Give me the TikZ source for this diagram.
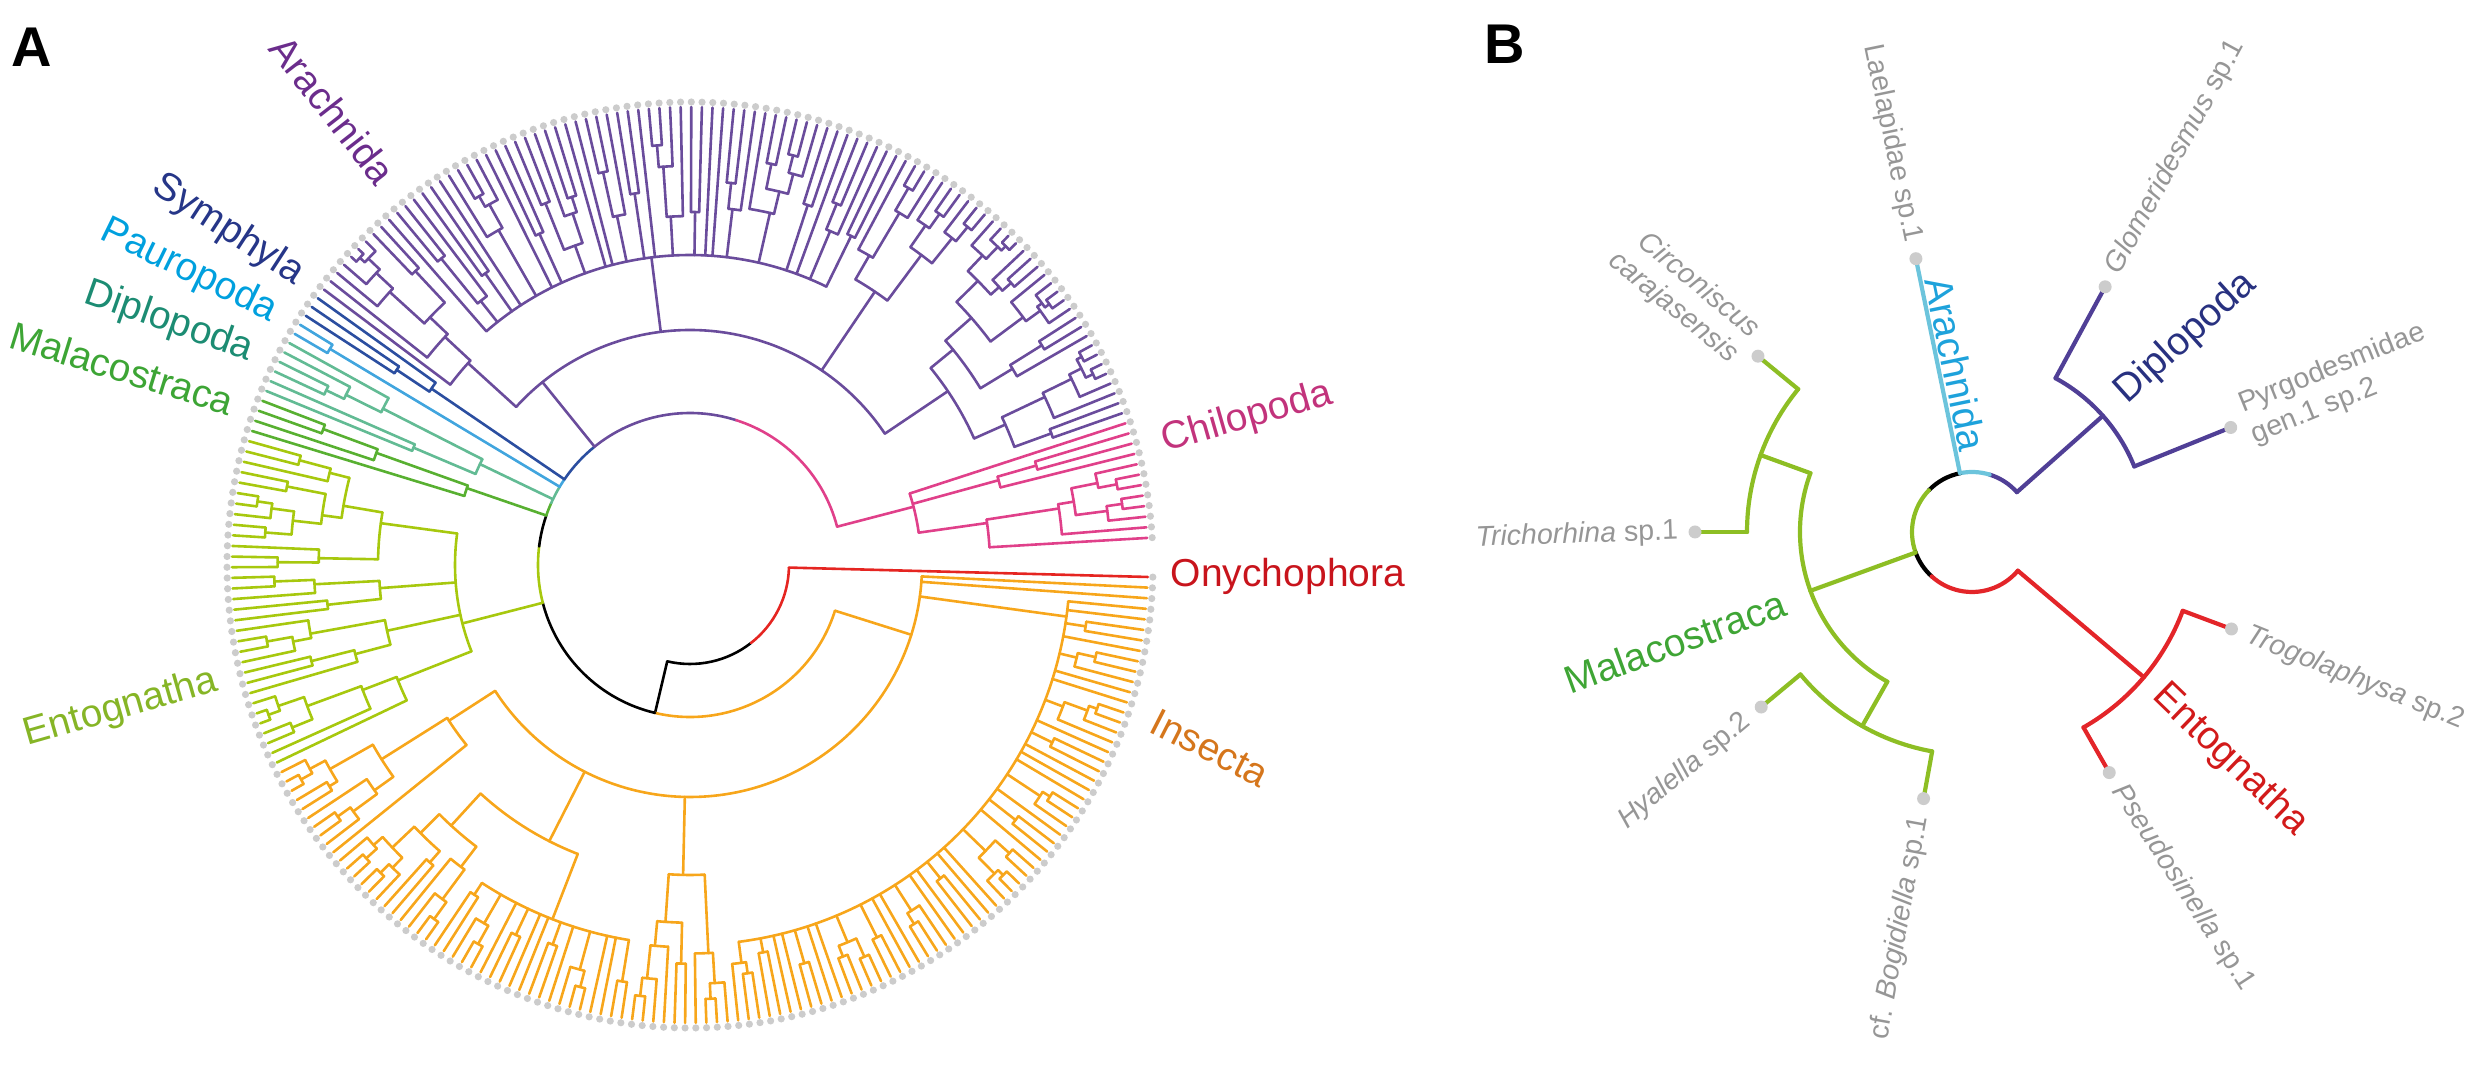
\documentclass[tikz,border=0pt]{standalone}
\usepackage{fontspec}
\setmainfont{Liberation Sans}
\definecolor{insC}{RGB}{247,166,27}
\definecolor{entC}{RGB}{167,200,14}
\definecolor{malC}{RGB}{88,176,49}
\definecolor{dipC}{RGB}{98,187,148}
\definecolor{pauC}{RGB}{65,165,222}
\definecolor{symC}{RGB}{43,78,160}
\definecolor{araC}{RGB}{106,76,156}
\definecolor{chiC}{RGB}{224,64,138}
\definecolor{onyC}{RGB}{229,37,33}
\definecolor{dotC}{RGB}{204,204,204}
\definecolor{araL}{RGB}{107,45,140}
\definecolor{symL}{RGB}{38,54,136}
\definecolor{pauL}{RGB}{0,160,222}
\definecolor{dipL}{RGB}{28,140,115}
\definecolor{malL}{RGB}{61,165,53}
\definecolor{entL}{RGB}{134,181,38}
\definecolor{insL}{RGB}{213,118,28}
\definecolor{onyL}{RGB}{200,20,28}
\definecolor{chiL}{RGB}{194,51,124}
\definecolor{bAra}{RGB}{108,196,220}
\definecolor{bAraL}{RGB}{30,162,219}
\definecolor{bDip}{RGB}{80,63,150}
\definecolor{bDipL}{RGB}{40,49,128}
\definecolor{bMal}{RGB}{141,190,36}
\definecolor{bMalL}{RGB}{63,165,53}
\definecolor{bEnt}{RGB}{227,37,41}
\definecolor{bEntL}{RGB}{210,26,26}
\definecolor{tipG}{RGB}{150,150,150}
\newcommand\Rtip{458}
% random subtree over tip range #1..#2, parent radius #3, node radius #4 (0 = random)
\newcommand\gtnode[4]{%
  \ifnum#1=#2\relax
    \pgfmathsetmacro\gtA{358.5-1.33*#1}%
    \draw (\gtA:#3) -- (\gtA:\Rtip);%
  \else
    \gtinner{#1}{#2}{#3}{#4}%
  \fi}
\newcommand\gtinner[4]{%
  \ifdim #4pt>0pt \edef\gtR{#4}\else\pgfmathsetmacro\gtR{#3+(\Rtip-#3)*(0.18+0.37*rnd)}\fi
  \pgfmathtruncatemacro\gtBm{#2-1}%
  \pgfmathrandominteger{\gtS}{#1}{\gtBm}%
  \pgfmathtruncatemacro\gtS{\gtS}%
  \pgfmathtruncatemacro\gtSp{\gtS+1}%
  \pgfmathsetmacro\gtM{358.5-1.33*(#1+#2)/2}%
  \pgfmathsetmacro\gtL{358.5-1.33*(#1+\gtS)/2}%
  \pgfmathsetmacro\gtRr{358.5-1.33*(\gtSp+#2)/2}%
  \draw (\gtM:#3) -- (\gtM:\gtR);%
  \draw (\gtL:\gtR) arc[start angle=\gtL, end angle=\gtRr, radius=\gtR];%
  \edef\gtNext{\noexpand\gtnode{#1}{\gtS}{\gtR}{0}\noexpand\gtnode{\gtSp}{#2}{\gtR}{0}}%
  \gtNext}
% hub: first tip #1, groups size/radius #2, hub radius #3, parent radius #4, stem angle #5
\newcommand\treehub[5]{%
  \xdef\hubCur{#1}\gdef\hubFirst{}\gdef\hubLast{}%
  \foreach \hs/\hr in {#2}{%
    \pgfmathtruncatemacro\hbA{\hubCur}%
    \pgfmathtruncatemacro\hbB{\hubCur+\hs-1}%
    \pgfmathsetmacro\hbM{358.5-1.33*(\hbA+\hbB)/2}%
    \ifx\hubFirst\empty\xdef\hubFirst{\hbM}\fi
    \xdef\hubLast{\hbM}%
    \ifdim\hr pt<0pt\relax\else
      \ifnum\hs=1\relax
        \draw (\hbM:#3) -- (\hbM:\Rtip);%
      \else
        \gtnode{\hbA}{\hbB}{#3}{\hr}%
      \fi
    \fi
    \xdef\hubCur{\the\numexpr\hbB+1\relax}%
  }%
  \pgfmathsetmacro\hubS{max(\hubFirst,#5)}%
  \pgfmathsetmacro\hubE{min(\hubLast,#5)}%
  \draw (#5:#4) -- (#5:#3);%
  \draw (\hubS:#3) arc[start angle=\hubS, end angle=\hubE, radius=#3];%
}
\tikzset{
  clab/.style={font=\fontsize{39}{44}\selectfont, inner sep=0pt},
  tlab/.style={font=\fontsize{28.5}{33}\selectfont, text=tipG, inner sep=0pt},
  plab/.style={font=\fontsize{56}{60}\selectfont\bfseries, inner sep=0pt},
  tipdot/.style={fill=dotC, draw=none}
}
\begin{document}
\begin{tikzpicture}[x=1pt,y=1pt,line cap=round,line join=round]
\useasboundingbox (0,0) rectangle (2479,1067);
\pgfmathsetseed{11}
% ================= Panel A =================
\begin{scope}[shift={(690,502)}, line width=2.6pt]
  % root
  \draw[black] (256.7:99) arc[start angle=256.7,end angle=308,radius=99];
  \draw[onyC] (308:99) arc[start angle=308,end angle=358.5,radius=99];
  \draw[onyC] (358.5:99) -- (358.5:\Rtip);
  \draw[black] (256.7:99) -- (256.7:152);
  % inner ring
  \draw[insC] (256.7:152) arc[start angle=256.7,end angle=342.5,radius=152];
  \draw[black] (194.4:152) arc[start angle=194.4,end angle=256.7,radius=152];
  \draw[entC] (173:152) arc[start angle=173,end angle=194.4,radius=152];
  \draw[black] (161:152) arc[start angle=161,end angle=173,radius=152];
  \draw[malC] (156:152) arc[start angle=156,end angle=161,radius=152];
  \draw[dipC] (149.05:152) arc[start angle=149.05,end angle=156,radius=152];
  \draw[pauC] (145.7:152) arc[start angle=145.7,end angle=149.05,radius=152];
  \draw[symC] (128.9:152) arc[start angle=128.9,end angle=145.7,radius=152];
  \draw[araC] (72.3:152) arc[start angle=72.3,end angle=128.9,radius=152];
  \draw[chiC] (14.6:152) arc[start angle=14.6,end angle=72.3,radius=152];
  % Insecta
  \begin{scope}[insC]
    \treehub{1}{1/0,1/0,60/-1,10/310,32/-1,10/287}{232}{152}{342.5}
    \treehub{3}{1/0,1/0,2/0,1/0,3/0,1/0,1/0,4/0,1/0,2/0,1/0,1/0,1/0,3/0,1/0,2/0,1/0,5/0,1/0,1/0,2/0,1/0,1/0,3/0,1/0,1/0,2/0,4/0,1/0,1/0,2/0,1/0,1/0,2/0,3/0}{380}{232}{352.2}
    \treehub{73}{20/-1,12/0}{310}{232}{243}
    \treehub{73}{2/0,1/0,1/0,3/0,1/0,2/0,1/0,1/0,2/0,1/0,3/0,2/0}{380}{310}{248.775}
  \end{scope}
  % Entognatha
  \begin{scope}[entC]
    \treehub{115}{7/314,7/310,5/311,13/312}{235}{152}{194.4}
  \end{scope}
  \begin{scope}[malC]\gtnode{147}{150}{152}{236}\end{scope}
  \begin{scope}[dipC]\gtnode{151}{156}{152}{233}\end{scope}
  \begin{scope}[pauC]\gtnode{157}{158}{152}{420}\end{scope}
  \begin{scope}[symC]\gtnode{159}{161}{152}{313}\end{scope}
  % Arachnida
  \begin{scope}[araC]
    \treehub{162}{9/300,52/-1,10/330,23/311}{235}{152}{128.9}
    \treehub{171}{1/0,3/0,2/0,1/0,4/0,1/0,2/0,5/0,1/0,1/0,3/0,2/0,1/0,4/0,2/0,1/0,1/0,3/0,6/0,2/0,1/0,3/0,2/0}{310}{235}{97.15}
  \end{scope}
  % Chilopoda
  \begin{scope}[chiC]
    \treehub{256}{1/0,3/320,8/300}{231}{152}{14.6}
  \end{scope}
  % tip dots
  \foreach \i in {0,...,267}{\pgfmathsetmacro\da{358.5-1.33*\i}\fill[tipdot] (\da:463) circle[radius=3.6];}
\end{scope}
% labels panel A
\node[plab] (pA) at (32,1020) {A};
\node[clab, text=araL, rotate=-52] (lAra) at (333,957) {Arachnida};
\node[clab, text=symL, rotate=-33] (lSym) at (228,837) {Symphyla};
\node[clab, text=pauL, rotate=-26] (lPau) at (189,796) {Pauropoda};
\node[clab, text=dipL, rotate=-19.4] (lDip) at (169,745) {Diplopoda};
\node[clab, text=malL, rotate=-17.2] (lMal) at (122,699) {Malacostraca};
\node[clab, text=entL, rotate=16] (lEnt) at (121,359) {Entognatha};
\node[clab, text=insL, rotate=-27] (lIns) at (1210,319) {Insecta};
\node[clab, text=onyL] (lOny) at (1288,491) {Onychophora};
\node[clab, text=chiL, rotate=16] (lChi) at (1247,649) {Chilopoda};
% ================= Panel B =================
\node[plab] (pB) at (1505,1023) {B};
\begin{scope}[shift={(1972,535)}, line width=4.2pt]
  % ring
  \draw[bDip] (41.6:60) arc[start angle=41.6,end angle=73,radius=60];
  \draw[bAra] (73:60) arc[start angle=73,end angle=101.6,radius=60];
  \draw[black] (101.6:60) arc[start angle=101.6,end angle=136,radius=60];
  \draw[bMal] (136:60) arc[start angle=136,end angle=200,radius=60];
  \draw[black] (200:60) arc[start angle=200,end angle=227.8,radius=60];
  \draw[bEnt] (227.8:60) arc[start angle=227.8,end angle=319.8,radius=60];
  % Arachnida
  \draw[bAra] (101.6:60) -- (101.6:276);
  % Diplopoda
  \draw[bDip] (41.6:60) -- (41.6:175);
  \draw[bDip] (22:175) arc[start angle=22,end angle=61.5,radius=175];
  \draw[bDip] (61.5:175) -- (61.5:276);
  \draw[bDip] (22:175) -- (22:276);
  % Entognatha
  \draw[bEnt] (-40.2:60) -- (-40.2:225);
  \draw[bEnt] (-60.3:225) arc[start angle=-60.3,end angle=-20.5,radius=225];
  \draw[bEnt] (-20.5:225) -- (-20.5:274);
  \draw[bEnt] (-60.3:225) -- (-60.3:274);
  % Malacostraca
  \draw[bMal] (200:60) -- (200:172);
  \draw[bMal] (160:172) arc[start angle=160,end angle=240.5,radius=172];
  \draw[bMal] (160:172) -- (160:225);
  \draw[bMal] (140.6:225) arc[start angle=140.6,end angle=180,radius=225];
  \draw[bMal] (140.6:225) -- (140.6:274);
  \draw[bMal] (180:225) -- (180:274);
  \draw[bMal] (240.5:172) -- (240.5:223);
  \draw[bMal] (219.7:223) arc[start angle=219.7,end angle=259.7,radius=223];
  \draw[bMal] (219.7:223) -- (219.7:270);
  \draw[bMal] (259.7:223) -- (259.7:268);
  % tip dots
  \foreach \a/\r in {101.6/279,61.5/279,22/279,-20.5/277,-60.3/277,140.6/277,180/277,219.7/274,259.7/271}
    \fill[tipdot] (\a:\r) circle[radius=6.5];
  % tip labels
  \node[tlab, anchor=east, rotate=-78.4] (tLae) at (101.6:294) {Laelapidae sp.1};
  \node[tlab, anchor=west, rotate=61.5] (tGlo) at (61.5:294) {\textit{Glomeridesmus} sp.1};
  \node[tlab, anchor=west, rotate=22, align=left] (tPyr) at (22:294) {Pyrgodesmidae\\gen.1 sp.2};
  \node[tlab, anchor=west, rotate=-22] (tTro) at (-20.5:292) {\textit{Trogolaphysa} sp.2};
  \node[tlab, anchor=west, rotate=-57] (tPse) at (-60.3:292) {\textit{Pseudosinella} sp.1};
  \node[tlab, anchor=east, rotate=79.7] (tBog) at (259.7:287) {cf. \textit{Bogidiella} sp.1};
  \node[tlab, anchor=east, rotate=40] (tHya) at (219.7:290) {\textit{Hyalella} sp.2};
  \node[tlab, anchor=east, rotate=2] (tTri) at (180:292) {\textit{Trichorhina} sp.1};
  \node[tlab, anchor=east, rotate=-39.4, align=right] (tCir) at (140.6:292) {\textit{Circoniscus}\\\textit{carajasensis}};
\end{scope}
\node[clab, text=bAraL, rotate=-78.4] (lAraB) at (1956,703) {Arachnida};
\node[clab, text=bDipL, rotate=42] (lDipB) at (2186,729) {Diplopoda};
\node[clab, text=bMalL, rotate=20] (lMalB) at (1675,425) {Malacostraca};
\node[clab, text=bEntL, rotate=-44] (lEntB) at (2230,307) {Entognatha};
\end{tikzpicture}
\end{document}
